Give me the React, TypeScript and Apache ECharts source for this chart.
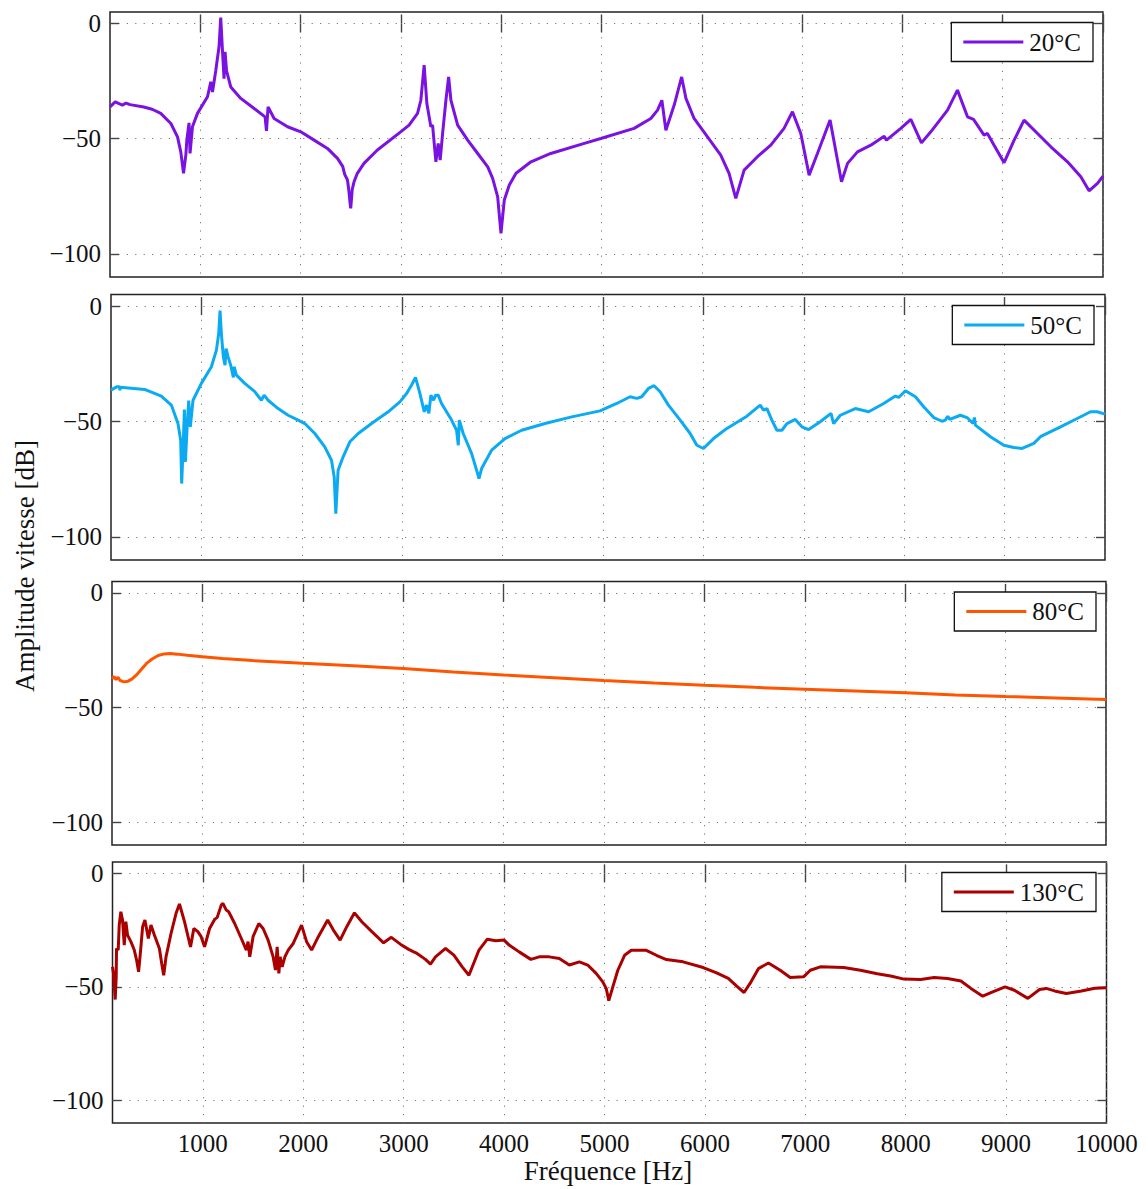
import React, { useEffect, useRef } from "react";
import * as echarts from "echarts";

const FONT = '"Liberation Serif", "Times New Roman", serif';

const xTickValues = [1000, 2000, 3000, 4000, 5000, 6000, 7000, 8000, 9000, 10000];
const yTickValues = [-100, -50, 0];
const seriesNames = ["20°C", "50°C", "80°C", "130°C"];
const seriesColors = ["#7A12E2", "#0BAAF2", "#FF5400", "#AA0000"];

const s20: [number, number][] = [
  [100, -36.2], [152, -34.0], [190, -34.8], [224, -35.4], [260, -34.5], [300, -35.2], [436, -36.2], [520, -37.2],
  [606, -39.0], [707, -43.4], [773, -49.2], [806, -55.8], [833, -65.0], [856, -57.1], [866, -50.6], [888, -43.1],
  [898, -56.4], [922, -44.8], [972, -39.0], [1072, -31.8], [1105, -25.3], [1122, -29.7], [1155, -20.3], [1187, -10.1],
  [1204, 2.6], [1221, -11.6], [1237, -23.9], [1247, -12.3], [1262, -20.5], [1304, -27.5], [1404, -32.5], [1537, -36.9],
  [1646, -40.5], [1660, -46.6], [1676, -36.2], [1736, -41.2], [1870, -44.8], [2002, -47.0], [2135, -50.6], [2268, -54.2],
  [2368, -58.5], [2420, -62.0], [2440, -65.5], [2468, -68.0], [2480, -72.0], [2494, -78.1], [2500, -80.2], [2515, -72.0],
  [2533, -68.7], [2566, -65.0], [2632, -60.7], [2766, -54.9], [2998, -47.0], [3082, -44.1], [3166, -39.0], [3199, -33.3],
  [3232, -18.1], [3259, -34.7], [3299, -44.8], [3316, -44.1], [3349, -60.0], [3372, -52.0], [3392, -59.3], [3416, -47.7],
  [3449, -33.3], [3476, -23.2], [3499, -33.3], [3566, -44.1], [3666, -50.6], [3766, -56.4], [3866, -62.2], [3915, -67.2],
  [3965, -75.2], [3998, -91.1], [4031, -76.6], [4081, -70.1], [4148, -65.0], [4297, -60.0], [4494, -56.4], [4829, -52.0],
  [4993, -49.9], [5325, -45.5], [5492, -41.2], [5559, -37.6], [5602, -33.3], [5642, -46.3], [5725, -35.4], [5799, -23.2],
  [5842, -32.5], [5923, -41.2], [6057, -49.2], [6189, -57.1], [6272, -65.0], [6339, -75.9], [6422, -63.6], [6555, -57.8],
  [6688, -52.8], [6820, -45.5], [6904, -38.3], [6987, -47.7], [7070, -65.8], [7153, -56.4], [7279, -41.9], [7353, -59.3],
  [7393, -68.7], [7453, -60.7], [7552, -55.7], [7685, -52.8], [7818, -48.9], [7841, -50.6], [7984, -45.5], [8084, -41.6],
  [8190, -51.8], [8283, -47.0], [8450, -37.6], [8549, -28.9], [8649, -40.5], [8709, -41.6], [8814, -48.4], [8848, -47.7],
  [8914, -52.8], [9014, -60.4], [9114, -50.6], [9213, -41.9], [9347, -47.7], [9480, -53.5], [9646, -60.0], [9779, -66.5],
  [9861, -72.6], [9945, -69.4], [10000, -66.2],
];

const s50: [number, number][] = [
  [100, -36.4], [156, -35.0], [185, -35.0], [189, -36.5], [193, -35.2], [435, -36.1], [601, -39.0], [701, -42.9],
  [767, -50.9], [794, -58.1], [804, -76.9], [821, -58.1], [831, -44.8], [841, -67.5], [860, -50.9], [874, -41.0],
  [890, -52.3], [917, -40.8], [1000, -33.5], [1100, -26.3], [1150, -19.1], [1173, -11.8], [1186, -2.0], [1199, -11.8],
  [1219, -22.0], [1236, -25.6], [1246, -18.4], [1266, -22.0], [1292, -25.6], [1319, -30.9], [1326, -26.3], [1349, -29.9],
  [1432, -33.5], [1532, -37.1], [1598, -40.8], [1625, -38.6], [1665, -40.8], [1764, -44.4], [1864, -47.3], [1964, -49.4],
  [2030, -50.9], [2130, -55.2], [2229, -61.0], [2296, -66.8], [2323, -74.0], [2339, -89.9], [2362, -71.1], [2412, -65.3],
  [2479, -58.8], [2562, -55.2], [2695, -50.9], [2861, -45.8], [2977, -41.5], [3044, -37.9], [3094, -34.2], [3133, -30.9],
  [3177, -37.9], [3220, -45.8], [3243, -42.9], [3266, -46.5], [3286, -38.6], [3313, -40.8], [3333, -38.6], [3359, -38.6],
  [3392, -42.2], [3492, -49.4], [3542, -53.8], [3559, -60.3], [3569, -49.4], [3608, -55.2], [3692, -63.9], [3741, -71.1],
  [3765, -74.7], [3791, -70.4], [3891, -62.4], [4024, -57.4], [4190, -53.8], [4423, -50.9], [4689, -48.0], [4971, -45.4],
  [5137, -42.2], [5270, -39.3], [5337, -40.0], [5386, -39.3], [5453, -35.7], [5509, -34.5], [5569, -37.1], [5652, -42.9],
  [5769, -49.4], [5868, -55.2], [5935, -60.3], [6001, -61.7], [6101, -57.4], [6234, -53.0], [6433, -47.7], [6566, -42.9],
  [6599, -45.1], [6633, -44.4], [6682, -49.4], [6732, -53.8], [6782, -53.8], [6832, -50.9], [6915, -49.1], [6981, -52.3],
  [7048, -53.5], [7164, -50.1], [7271, -46.5], [7297, -50.9], [7364, -47.3], [7513, -44.4], [7646, -45.8], [7796, -42.2],
  [7912, -39.0], [7945, -39.6], [8012, -36.7], [8112, -39.3], [8194, -43.6], [8294, -48.3], [8377, -49.9], [8410, -49.4],
  [8434, -47.7], [8454, -49.1], [8560, -47.3], [8626, -48.3], [8686, -50.9], [8699, -48.3], [8709, -51.6], [8859, -56.6],
  [8992, -60.3], [9092, -61.3], [9175, -61.7], [9291, -59.5], [9357, -56.6], [9557, -52.3], [9723, -48.7], [9856, -45.8],
  [9922, -45.8], [10000, -46.8],
];

const s80: [number, number][] = [
  [100, -37.5], [120, -36.5], [140, -37.8], [160, -36.8], [180, -38.2], [220, -38.8], [260, -38.5], [300, -37.5],
  [350, -35.5], [400, -33.0], [450, -30.5], [500, -28.8], [560, -27.3], [620, -26.6], [680, -26.4], [750, -26.7],
  [850, -27.2], [1000, -27.8], [1200, -28.6], [1500, -29.5], [2000, -30.7], [2500, -31.8], [3000, -33.0], [3500, -34.5],
  [4000, -35.8], [4500, -37.0], [5000, -38.2], [5500, -39.3], [6000, -40.3], [6500, -41.2], [7000, -42.0], [7500, -42.8],
  [8000, -43.6], [8500, -44.5], [9000, -45.2], [9500, -45.8], [10000, -46.5],
];

const s130: [number, number][] = [
  [100, -41.2], [110, -44.1], [127, -55.6], [137, -45.6], [140, -33.1], [157, -33.8], [167, -22.8], [183, -16.9],
  [200, -20.6], [217, -31.6], [233, -21.3], [250, -27.2], [283, -30.1], [317, -33.8], [340, -38.2], [360, -43.4],
  [383, -32.4], [400, -23.5], [423, -20.6], [457, -28.7], [483, -22.8], [517, -27.2], [567, -33.1], [590, -39.7],
  [610, -44.9], [633, -36.8], [683, -26.5], [733, -17.6], [767, -13.5], [817, -21.3], [877, -32.4], [910, -24.3],
  [950, -25.7], [983, -27.9], [1017, -32.4], [1067, -24.3], [1117, -20.3], [1143, -19.4], [1183, -14.0], [1200, -13.2],
  [1233, -16.2], [1257, -16.9], [1317, -22.1], [1383, -28.7], [1433, -33.8], [1450, -30.1], [1467, -36.8], [1500, -27.9],
  [1557, -22.1], [1600, -24.3], [1650, -29.4], [1700, -36.8], [1723, -42.6], [1740, -32.4], [1757, -44.1], [1770, -36.8],
  [1790, -41.2], [1817, -36.8], [1850, -33.8], [1900, -30.9], [1983, -22.8], [2033, -30.1], [2083, -33.8], [2150, -27.9],
  [2243, -20.6], [2300, -25.0], [2367, -29.4], [2433, -23.5], [2510, -17.4], [2583, -21.3], [2683, -25.7], [2800, -30.6],
  [2877, -28.2], [2967, -31.2], [3050, -33.5], [3100, -34.6], [3133, -35.3], [3217, -37.9], [3267, -40.0], [3317, -36.8],
  [3417, -33.1], [3500, -36.0], [3583, -41.2], [3650, -44.9], [3750, -33.8], [3833, -29.0], [3917, -29.7], [4000, -29.4],
  [4050, -31.6], [4150, -34.6], [4267, -37.9], [4350, -36.8], [4450, -36.8], [4550, -37.5], [4650, -40.4], [4750, -39.0],
  [4833, -40.4], [4917, -44.1], [4983, -47.8], [5017, -50.7], [5043, -56.1], [5083, -50.0], [5133, -42.7], [5200, -36.1],
  [5267, -33.9], [5417, -33.9], [5517, -36.1], [5617, -38.0], [5783, -39.0], [5983, -41.5], [6117, -43.9], [6233, -46.3],
  [6317, -49.7], [6390, -52.5], [6450, -48.5], [6533, -42.0], [6633, -39.5], [6750, -42.7], [6850, -45.9], [6983, -45.6],
  [7050, -42.7], [7150, -41.2], [7383, -41.5], [7550, -42.7], [7717, -44.2], [7850, -45.2], [7983, -46.6], [8150, -46.8],
  [8283, -45.9], [8417, -46.3], [8550, -47.4], [8650, -50.7], [8767, -54.1], [8867, -52.2], [8990, -50.0], [9083, -51.5],
  [9217, -55.1], [9333, -51.2], [9400, -50.7], [9483, -51.8], [9600, -52.9], [9750, -51.8], [9883, -50.6], [10000, -50.4],
];

const seriesData = [s20, s50, s80, s130];

const GRIDS = [
  { left: 110, top: 12, width: 993, height: 265 },
  { left: 111, top: 294.5, width: 994, height: 265.5 },
  { left: 112, top: 581.5, width: 994, height: 263.5 },
  { left: 112.5, top: 862, width: 994, height: 261 },
];
const LEGEND_POS = [
  { right: 55, top: 22.5 },
  { right: 54, top: 305.5 },
  { right: 52, top: 592 },
  { right: 52, top: 872.5 },
];

const fmtY = (v: number) => (v < 0 ? "\u2212" + Math.abs(v) : String(v));
const fmtX = (v: number) => String(Math.round(v));

export default function App() {
  const ref = useRef<HTMLDivElement>(null);
  useEffect(() => {
    document.body.style.margin = "0";
    const chart = echarts.init(ref.current!, null, { renderer: "svg" });
    const xAxes: any[] = [];
    const yAxes: any[] = [];
    const series: any[] = [];
    const legends: any[] = [];
    const tickStyle = { show: true, inside: true, length: 9, lineStyle: { color: "#444", width: 1.4 } };
    const splitStyle = { show: true, lineStyle: { color: "#777", width: 1, type: [1.2, 7.2] } };
    GRIDS.forEach((g, i) => {
      const last = i === GRIDS.length - 1;
      xAxes.push({
        type: "value", gridIndex: i, min: 100, max: 10000, position: "bottom",
        axisLine: { show: false },
        axisTick: { ...tickStyle, customValues: xTickValues },
        axisLabel: {
          show: last, customValues: xTickValues, margin: 8, formatter: fmtX,
          fontFamily: FONT, fontSize: 25, color: "#111",
        },
        splitLine: splitStyle,
      });
      xAxes.push({
        type: "value", gridIndex: i, min: 100, max: 10000, position: "top",
        axisLine: { show: false },
        axisTick: { ...tickStyle, customValues: xTickValues },
        axisLabel: { show: false },
        splitLine: { show: false },
      });
      yAxes.push({
        type: "value", gridIndex: i, min: -110, max: 5, position: "left",
        axisLine: { show: false },
        axisTick: { ...tickStyle, customValues: yTickValues },
        axisLabel: {
          show: true, customValues: yTickValues, margin: 9, formatter: fmtY,
          fontFamily: FONT, fontSize: 25, color: "#111",
        },
        splitLine: splitStyle,
      });
      yAxes.push({
        type: "value", gridIndex: i, min: -110, max: 5, position: "right",
        axisLine: { show: false },
        axisTick: { ...tickStyle, customValues: yTickValues },
        axisLabel: { show: false },
        splitLine: { show: false },
      });
      series.push({
        type: "line", name: seriesNames[i], xAxisIndex: 2 * i, yAxisIndex: 2 * i,
        data: seriesData[i], showSymbol: false, symbol: "none",
        lineStyle: { color: seriesColors[i], width: 3 },
        itemStyle: { color: seriesColors[i] },
        z: 3,
      });
      legends.push({
        data: [seriesNames[i]], ...LEGEND_POS[i], orient: "horizontal",
        backgroundColor: "#fff", borderColor: "#111", borderWidth: 1.3,
        padding: [7, 12, 7, 12], itemWidth: 60, itemHeight: 3, icon: "rect",
        itemGap: 5, selectedMode: false,
        textStyle: { fontFamily: FONT, fontSize: 25, color: "#111", padding: [0, 0, 0, 1] },
      });
    });
    chart.setOption({
      animation: false,
      backgroundColor: "#fff",
      grid: GRIDS.map((g) => ({ ...g, show: true, borderColor: "#222", borderWidth: 1.5, backgroundColor: "transparent" })),
      xAxis: xAxes,
      yAxis: yAxes,
      series,
      legend: legends,
      graphic: [
        {
          type: "text", x: 25, y: 566, rotation: Math.PI / 2,
          style: { text: "Amplitude vitesse [dB]", fontFamily: FONT, fontSize: 27, fill: "#111", textAlign: "center", textVerticalAlign: "middle" },
        },
        {
          type: "text", x: 608, y: 1171,
          style: { text: "Fréquence [Hz]", fontFamily: FONT, fontSize: 27, fill: "#111", textAlign: "center", textVerticalAlign: "middle" },
        },
      ],
    });
    return () => chart.dispose();
  }, []);
  return <div ref={ref} style={{ position: "absolute", left: 0, top: 0, width: 1148, height: 1189 }} />;
}
